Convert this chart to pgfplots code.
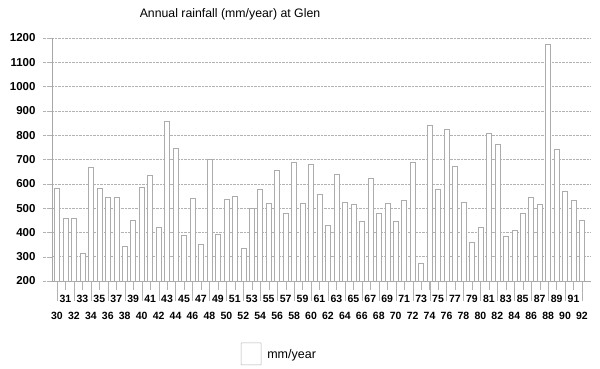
\documentclass[border=0pt]{standalone}
\usepackage{pgfplots}
\pgfplotsset{compat=1.18}
\usepackage{fontspec}
\setmainfont{Liberation Sans}
\newcommand{\xe}[1]{\strut\\[5pt]\strut#1}
\newcommand{\xo}[1]{\strut#1\\[5pt]\strut}
\begin{document}
\begin{tikzpicture}
\useasboundingbox (-52pt,-88pt) rectangle (548pt,281pt);
\begin{axis}[
  at={(0pt,0pt)}, anchor=origin,
  scale only axis, width=538pt, height=243pt,
  xmin=1929.41, xmax=1992.94,
  ymin=200, ymax=1200,
  ytick={200,300,...,1200},
  xtick={1930,...,1992},
  extra x ticks={1930,1932,...,1992},
  extra x tick labels={},
  extra x tick style={major tick length=20pt},
  xticklabels={{\xe{30}},{\xo{31}},{\xe{32}},{\xo{33}},{\xe{34}},{\xo{35}},{\xe{36}},{\xo{37}},{\xe{38}},{\xo{39}},{\xe{40}},{\xo{41}},{\xe{42}},{\xo{43}},{\xe{44}},{\xo{45}},{\xe{46}},{\xo{47}},{\xe{48}},{\xo{49}},{\xe{50}},{\xo{51}},{\xe{52}},{\xo{53}},{\xe{54}},{\xo{55}},{\xe{56}},{\xo{57}},{\xe{58}},{\xo{59}},{\xe{60}},{\xo{61}},{\xe{62}},{\xo{63}},{\xe{64}},{\xo{65}},{\xe{66}},{\xo{67}},{\xe{68}},{\xo{69}},{\xe{70}},{\xo{71}},{\xe{72}},{\xo{73}},{\xe{74}},{\xo{75}},{\xe{76}},{\xo{77}},{\xe{78}},{\xo{79}},{\xe{80}},{\xo{81}},{\xe{82}},{\xo{83}},{\xe{84}},{\xo{85}},{\xe{86}},{\xo{87}},{\xe{88}},{\xo{89}},{\xe{90}},{\xo{91}},{\xe{92}}},
  xticklabel style={font=\bfseries\fontsize{10.5}{12}\selectfont, align=center, anchor=north, yshift=-1pt},
  yticklabel style={font=\bfseries\fontsize{11.5}{11.5}\selectfont, xshift=-4pt},
  /pgf/number format/assume math mode=true,
  /pgf/number format/1000 sep={},
  axis x line*=bottom, axis y line*=left,
  axis line style={gray!70},
  tick align=outside,
  major tick length=9pt,
  x tick style={draw=gray!60, solid},
  y tick style={draw=gray!60, densely dotted},
  ymajorgrids,
  major grid style={gray!60, densely dotted},
  ybar, bar width=5pt,
  legend style={draw=none, fill=none, at={(0.345,-0.30)}, anchor=west,
    font=\fontsize{12.5}{12.5}\selectfont},
  legend image code/.code={\draw[gray!60, fill=white, rounded corners=0.5pt] (0pt,-10pt) rectangle (20pt,12pt);},
  legend cell align=left,
]
\addplot[draw=gray!65, fill=white, line width=0.5pt] coordinates {
(1930,583) (1931,459) (1932,459) (1933,315) (1934,668) (1935,582) (1936,546) (1937,546)
(1938,343) (1939,451) (1940,585) (1941,636) (1942,422) (1943,858) (1944,748) (1945,389)
(1946,541) (1947,352) (1948,700) (1949,393) (1950,536) (1951,550) (1952,335) (1953,500)
(1954,577) (1955,520) (1956,654) (1957,480) (1958,689) (1959,521) (1960,681) (1961,558)
(1962,430) (1963,639) (1964,524) (1965,516) (1966,446) (1967,623) (1968,480) (1969,521)
(1970,446) (1971,533) (1972,689) (1973,274) (1974,842) (1975,577) (1976,825) (1977,673)
(1978,525) (1979,358) (1980,422) (1981,809) (1982,763) (1983,385) (1984,410) (1985,480)
(1986,546) (1987,517) (1988,1175) (1989,743) (1990,570) (1991,533) (1992,451)
};
\addlegendentry{\hspace{4pt}mm/year}
\end{axis}
\node[font=\fontsize{12.3}{12.3}\selectfont] at (178pt,267pt) {Annual rainfall (mm/year) at Glen};
\end{tikzpicture}
\end{document}
